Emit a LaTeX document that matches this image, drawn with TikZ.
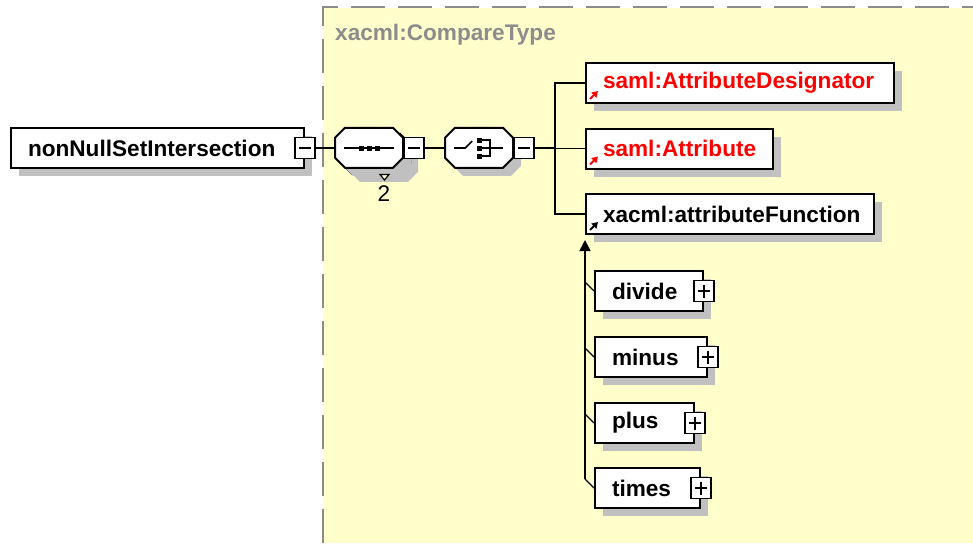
\documentclass[tikz,border=0pt]{standalone}
\usepackage{fontspec}
\setmainfont{Liberation Sans}
\usetikzlibrary{arrows.meta, positioning, shadows}
\definecolor{xsdyellow}{RGB}{255,255,204}
\definecolor{xsdgray}{RGB}{140,140,140}
\definecolor{xsdshadow}{RGB}{192,192,192}
\definecolor{xsdred}{RGB}{255,0,0}

% octagon frame of a compositor node (68 x 40, corners cut by 10)
\newcommand{\compframe}[2]{%
  \fill[xsdshadow] ([shift={(8pt,-8pt)}]#1.north west) ++(10,0) -- ++(48,0) -- ++(10,10) -- ++(0,20)
    -- ++(-10,10) -- ++(-48,0) -- ++(-10,-10) -- ++(0,-20) -- cycle;
  \draw[line width=2pt, fill=#2] (#1.north west) ++(10,0) -- ++(48,0) -- ++(10,10) -- ++(0,20)
    -- ++(-10,10) -- ++(-48,0) -- ++(-10,-10) -- ++(0,-20) -- cycle;}

\begin{document}
\begin{tikzpicture}[
  x=1pt, y=-1pt,
  font=\fontsize{22.6}{26}\selectfont\bfseries,
  boxshadow/.style={drop shadow={shadow xshift=8pt, shadow yshift=-8pt, fill=xsdshadow, opacity=1}},
  elem/.style={rectangle, draw=black, line width=2pt, fill=white, anchor=west,
               minimum height=40pt, inner xsep=17pt, inner ysep=0pt, align=left, boxshadow},
  refelem/.style={elem, text=xsdred},
  compbox/.style={rectangle, anchor=west, inner sep=0pt, minimum width=68pt, minimum height=40pt},
  minusbox/.style={rectangle, draw=black, line width=1.6pt, fill=white, inner sep=0pt,
               minimum width=20pt, minimum height=21pt,
               path picture={\draw[line width=1.6pt] ([xshift=4pt]path picture bounding box.west)
                 -- ([xshift=-4pt]path picture bounding box.east);}},
  plusbox/.style={minusbox,
               path picture={\draw[line width=1.6pt] ([xshift=4pt]path picture bounding box.west)
                 -- ([xshift=-4pt]path picture bounding box.east)
                 ([yshift=-4pt]path picture bounding box.north) -- ([yshift=4pt]path picture bounding box.south);}},
  link/.style={line width=1.6pt, black},
  tick/.style={line width=1.2pt, black},
  icon/.style={line width=1.6pt, black},
  refmark/.style={-{Triangle[length=6pt,width=7pt]}, line width=2pt},
  subarr/.style={-{Triangle[length=11pt,width=11pt]}, line width=1.6pt},
]
\useasboundingbox (0,0) rectangle (973,543);

% complex type area
\fill[xsdyellow] (323,8) rectangle (973,543);
\draw[xsdgray, line width=2pt, dash pattern=on 34pt off 13pt] (323,543) -- (323,7) -- (973,7);
\node[anchor=west, text=xsdgray, inner sep=0pt] (ctype) at (335,35) {xacml:CompareType};

% root element
\node[elem, text width=259pt] (root) at (10,148) {nonNullSetIntersection};
\node[minusbox] (rootminus) at (root.east) {};

% sequence (max 2) and choice
\node[compbox] (seqstack) at (342,154) {};
\node[compbox] (seq) at (335,148) {};
\compframe{seqstack}{white}
\compframe{seq}{white}
\node[minusbox, anchor=west] (seqminus) at (seq.east) {};
\draw[line width=1.2pt, fill=xsdyellow] (380,174.5) -- (389,174.5) -- (384.5,180) -- cycle;
\node[font=\fontsize{22.6}{26}\selectfont, inner sep=0pt] (seqcount) at (384,194) {2};

\node[compbox] (choice) at (445,148) {};
\compframe{choice}{white}
\node[minusbox, anchor=west] (choiceminus) at (choice.east) {};

% compositor icons
\draw[icon] ([xshift=-25pt]seq.center) -- ([xshift=25pt]seq.center);
\fill ([xshift=-10.5pt]seq.center) ++(0,-2.5) rectangle ++(5,5);
\fill ([xshift=-2.5pt]seq.center) ++(0,-2.5) rectangle ++(5,5);
\fill ([xshift=5.5pt]seq.center) ++(0,-2.5) rectangle ++(5,5);

\draw[icon] ([xshift=-25pt]choice.center) -- ++(11,0) -- ++(7,-7);
\fill ([xshift=-2.5pt]choice.center) ++(0,-10.5) rectangle ++(5,5);
\fill ([xshift=-2.5pt]choice.center) ++(0,-2.5) rectangle ++(5,5);
\fill ([xshift=-2.5pt]choice.center) ++(0,5.5) rectangle ++(5,5);
\draw[icon] ([xshift=2.5pt]choice.center) ++(0,-8) -- ++(8,0) -- ++(0,16) -- ++(-8,0);
\draw[icon] ([xshift=2.5pt]choice.center) -- ([xshift=24pt]choice.center);

% choice members
\node[refelem, text width=274pt] (desig) at (585,83) {\mbox{saml:AttributeDesignator}};
\node[refelem, text width=153pt] (attr) at (585,148.5) {\mbox{saml:Attribute}};
\node[elem, text width=254pt] (func) at (585,214) {\mbox{xacml:attributeFunction}};
\draw[refmark, xsdred] ([shift={(5pt,5pt)}]desig.south west) -- ++(8,-8);
\draw[refmark, xsdred] ([shift={(5pt,5pt)}]attr.south west) -- ++(8,-8);
\draw[refmark, black] ([shift={(5pt,5pt)}]func.south west) -- ++(8,-8);

% substitution group
\node[elem, text width=74pt] (divide) at (594,291) {divide};
\node[plusbox] (divideplus) at (divide.east) {};
\node[elem, text width=78pt] (minus) at (594,357) {minus};
\node[plusbox] (minusplus) at (minus.east) {};
\node[elem, text width=65pt] (plus) at (594,423) {plus};
\node[plusbox] (plusplus) at (plus.east) {};
\node[elem, text width=71pt] (times) at (594,488) {times};
\node[plusbox] (timesplus) at (times.east) {};

% connectors
\coordinate (fork) at (555,148);
\coordinate (subend) at (585,479);
\draw[link] (rootminus.east) -- (seq.west);
\draw[link] (seqminus.east) -- (choice.west);
\draw[link] (choiceminus.east) -- (fork);
\draw[link] (fork) |- (desig.west);
\draw[link] (fork) |- (attr.west);
\draw[link] (fork) |- (func.west);
\draw[subarr] (subend) -- ([yshift=-5pt]func.south west);
\draw[tick] (divide.west) -- ++(-9,-9);
\draw[tick] (minus.west) -- ++(-9,-9);
\draw[tick] (plus.west) -- ++(-9,-9);
\draw[tick] (times.west) -- ++(-9,-9);

\end{tikzpicture}
\end{document}
